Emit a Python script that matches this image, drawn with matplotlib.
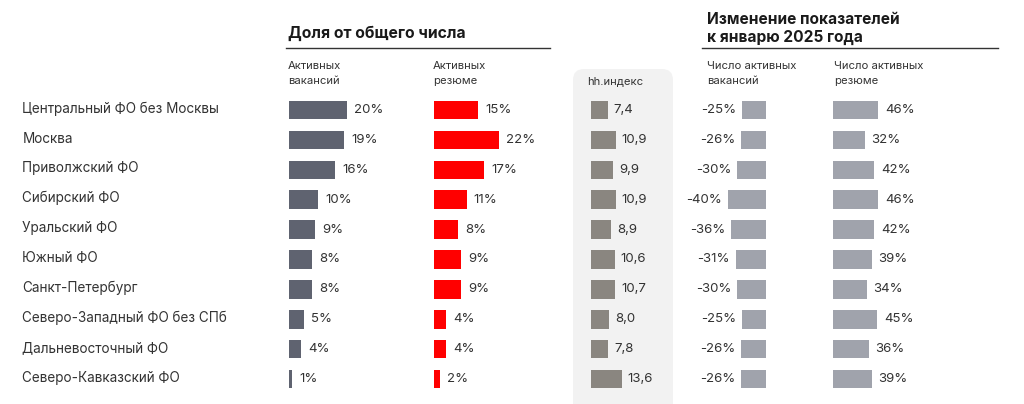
import matplotlib
matplotlib.use("Agg")
import matplotlib.pyplot as plt
from matplotlib.patches import FancyBboxPatch

plt.rcParams['font.family'] = ['Inter', 'DejaVu Sans']

# данные
regions = ["Центральный ФО без Москвы", "Москва", "Приволжский ФО", "Сибирский ФО",
           "Уральский ФО", "Южный ФО", "Санкт-Петербург", "Северо-Западный ФО без СПб",
           "Дальневосточный ФО", "Северо-Кавказский ФО"]
vac_share = [20, 19, 16, 10, 9, 8, 8, 5, 4, 1]
res_share = [15, 22, 17, 11, 8, 9, 9, 4, 4, 2]
hh_index = [7.4, 10.9, 9.9, 10.9, 8.9, 10.6, 10.7, 8.0, 7.8, 13.6]
vac_change = [-25, -26, -30, -40, -36, -31, -30, -25, -26, -26]
res_change = [46, 32, 42, 46, 42, 39, 34, 45, 36, 39]

W, H = 1024, 404
fig = plt.figure(figsize=(W / 100, H / 100), dpi=100)
txt = "#333333"
rend = fig.canvas.get_renderer()


def fit(t, width_px):
    # подгоняем размер шрифта под ширину в исходнике
    w = t.get_window_extent(renderer=rend).width
    t.set_fontsize(t.get_fontsize() * width_px / w)
    return t.get_fontsize()


# фон / оформление в пикселях
bg = fig.add_axes([0, 0, 1, 1])
bg.set_xlim(0, W)
bg.set_ylim(H, 0)
bg.axis("off")
box = FancyBboxPatch((573, 69), 100, 345, boxstyle="round,pad=0,rounding_size=11",
                     fc="#f2f2f2", ec="none")
bg.add_patch(box)
t1 = bg.text(288.5, 33, "Доля от общего числа", fontsize=12, fontweight="bold",
             color="#1a1a1a", va="center")
fit(t1, 176)
bg.plot([285.5, 550], [47.5, 47.5], color="#333333", lw=1)
t2 = bg.text(707, 19, "Изменение показателей", fontsize=11.5, fontweight="bold",
             color="#1a1a1a", va="center")
fs2 = fit(t2, 192)
bg.text(707, 37.5, "к январю 2025 года", fontsize=fs2, fontweight="bold",
        color="#1a1a1a", va="center")
bg.plot([702, 998], [47.5, 47.5], color="#333333", lw=1)

probe = bg.text(0, -100, "Число активных", fontsize=8)
fs_sub = fit(probe, 90)
probe.remove()
sub_kw = dict(fontsize=fs_sub, color=txt, va="top", linespacing=1.6)
bg.text(288, 61, "Активных\nвакансий", **sub_kw)
bg.text(433, 61, "Активных\nрезюме", **sub_kw)
bg.text(587, 76, "hh.индекс", **sub_kw)
bg.text(707, 61, "Число активных\nвакансий", **sub_kw)
bg.text(834, 61, "Число активных\nрезюме", **sub_kw)

# строки
n = len(regions)
row0, step = 110, 29.9
top = row0 - step / 2
bottom = row0 + step * (n - 0.5)


def col_axes(left_px, width_px, xlim):
    ax = fig.add_axes([left_px / W, 1 - bottom / H, width_px / W, (bottom - top) / H])
    ax.set_xlim(*xlim)
    ax.set_ylim(n - 0.5, -0.5)
    ax.axis("off")
    ax.patch.set_alpha(0)
    return ax


probe = bg.text(0, -100, regions[0], fontsize=10)
fs_lab = fit(probe, 199)
probe.remove()
fs_val = 9.5

lab = col_axes(0, 280, (0, 280))
for i, r in enumerate(regions):
    lab.annotate(r, (22.5, i), xytext=(0, 1), textcoords="offset points",
                 fontsize=fs_lab, color=txt, va="center")

bh = 0.62
ypos = list(range(n))

ax1 = col_axes(289, 120, (0, 120 / 2.9))
ax1.barh(ypos, vac_share, height=bh, color="#5f6370")
for i, v in enumerate(vac_share):
    ax1.annotate(f"{v}%", (v, i), xytext=(5.2, 0), textcoords="offset points",
                 va="center", fontsize=fs_val, color=txt)

ax2 = col_axes(434.3, 120, (0, 120 / 2.93))
ax2.barh(ypos, res_share, height=bh, color="#ff0000")
for i, v in enumerate(res_share):
    ax2.annotate(f"{v}%", (v, i), xytext=(5.2, 0), textcoords="offset points",
                 va="center", fontsize=fs_val, color=txt)

ax3 = col_axes(590.7, 75, (0, 75 / 2.28))
ax3.barh(ypos, hh_index, height=bh, color="#8a8680")
for i, v in enumerate(hh_index):
    ax3.annotate(f"{v:.1f}".replace(".", ","), (v, i), xytext=(4.3, 0),
                 textcoords="offset points", va="center", fontsize=fs_val, color=txt)

ax4 = col_axes(765.7 - 90, 90, (-90 / 0.955, 0))
ax4.barh(ypos, vac_change, height=bh, color="#a0a3ac")
for i, v in enumerate(vac_change):
    ax4.annotate(f"{v}%", (v, i), xytext=(-4.3, 0), textcoords="offset points",
                 va="center", ha="right", fontsize=fs_val, color=txt)

ax5 = col_axes(833.3, 140, (0, 140 / 0.98))
ax5.barh(ypos, res_change, height=bh, color="#a0a3ac")
for i, v in enumerate(res_change):
    ax5.annotate(f"{v}%", (v, i), xytext=(4.8, 0), textcoords="offset points",
                 va="center", fontsize=fs_val, color=txt)

fig.savefig("out.png", dpi=100)
